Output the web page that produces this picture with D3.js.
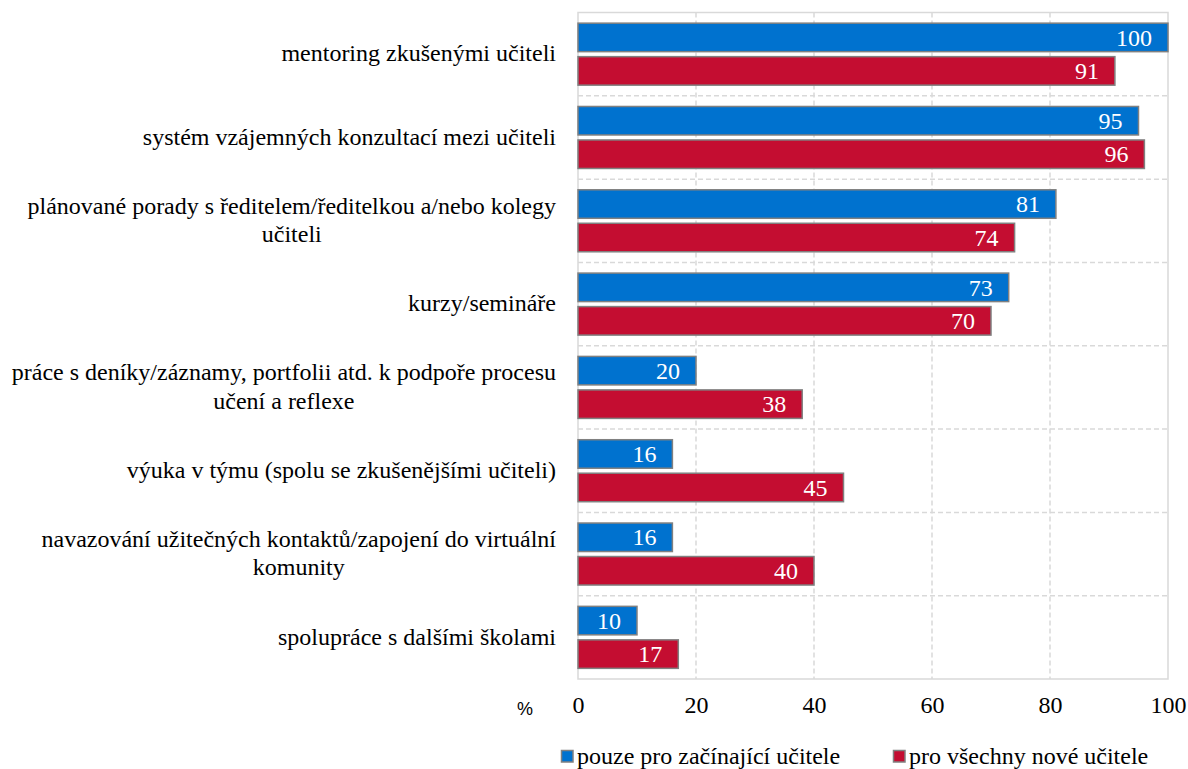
<!DOCTYPE html>
<html>
<head>
<meta charset="utf-8">
<script src="https://cdn.jsdelivr.net/npm/d3@7/dist/d3.min.js"></script>
<style>
  html, body { margin: 0; padding: 0; background: #fff; }
  svg { display: block; }
  .serif { font-family: "Liberation Serif", "Times New Roman", Tinos, "DejaVu Serif", serif; }
  .sans { font-family: "Liberation Sans", Arial, sans-serif; }
</style>
</head>
<body>
<svg id="chart" width="1188" height="769"></svg>
<script>
// ---- data ----
const categories = [
  "mentoring zkušenými učiteli",
  "systém vzájemných konzultací mezi učiteli",
  "plánované porady s ředitelem/ředitelkou a/nebo kolegy\nučiteli",
  "kurzy/semináře",
  "práce s deníky/záznamy, portfolii atd. k podpoře procesu\nučení a reflexe",
  "výuka v týmu (spolu se zkušenějšími učiteli)",
  "navazování užitečných kontaktů/zapojení do virtuální\nkomunity",
  "spolupráce s dalšími školami"
];
const seriesNames = ["pouze pro začínající učitele", "pro všechny nové učitele"];
const beginners = [100, 95, 81, 73, 20, 16, 16, 10];
const allNew = [91, 96, 74, 70, 38, 45, 40, 17];
const xTicks = [0, 20, 40, 60, 80, 100];
const unitLabel = "%";

// ---- layout ----
const colors = ["#0072CF", "#C40D31"];
const fs = 24;
const plot = { left: 578, right: 1168, top: 12.5, bottom: 679 };

const svg = d3.select("#chart");

const x = d3.scaleLinear().domain([0, 100]).range([plot.left, plot.right]);
const y = d3.scaleBand().domain(categories).range([plot.top, plot.bottom]).paddingInner(0).paddingOuter(0);
const sub = d3.scaleBand().domain(seriesNames).range([0, y.bandwidth()]).paddingInner(0.149).paddingOuter(0.318);

const gridColor = "#d9d9d9";

svg.append("g").selectAll("line")
  .data(xTicks.filter(t => t > 0 && t < 100))
  .join("line")
  .attr("x1", d => x(d)).attr("x2", d => x(d))
  .attr("y1", plot.top).attr("y2", plot.bottom)
  .attr("stroke", gridColor).attr("stroke-width", 1.5)
  .attr("stroke-dasharray", "5,3");

svg.append("g").selectAll("line")
  .data(categories.slice(1))
  .join("line")
  .attr("x1", plot.left).attr("x2", plot.right)
  .attr("y1", d => y(d)).attr("y2", d => y(d))
  .attr("stroke", gridColor).attr("stroke-width", 1.5)
  .attr("stroke-dasharray", "5,3");

svg.append("rect")
  .attr("x", plot.left).attr("y", plot.top)
  .attr("width", plot.right - plot.left).attr("height", plot.bottom - plot.top)
  .attr("fill", "none").attr("stroke", gridColor).attr("stroke-width", 1.5);

const rows = categories.map((c, i) => ({ cat: c, vals: [beginners[i], allNew[i]] }));
const groups = svg.append("g").selectAll("g")
  .data(rows).join("g")
  .attr("transform", d => `translate(0,${y(d.cat)})`);

const barData = d => d.vals.map((v, j) => ({ v, j, name: seriesNames[j] }));

groups.selectAll("rect")
  .data(barData).join("rect")
  .attr("x", x(0))
  .attr("y", d => sub(d.name))
  .attr("width", d => x(d.v) - x(0))
  .attr("height", sub.bandwidth())
  .attr("fill", d => colors[d.j])
  .attr("stroke", "#808080")
  .attr("stroke-width", 1.5);

groups.selectAll("text")
  .data(barData).join("text")
  .attr("class", "serif")
  .attr("x", d => x(d.v) - 16)
  .attr("y", d => sub(d.name) + sub.bandwidth() / 2)
  .attr("dy", "0.34em")
  .attr("text-anchor", "end")
  .attr("fill", "#fff")
  .attr("font-size", fs)
  .text(d => d.v);

const labelRight = 556;
const lineH = 28.5;
const catG = svg.append("g");
categories.forEach(c => {
  const lines = c.split("\n");
  const cy = y(c) + y.bandwidth() / 2;
  const t = catG.append("text")
    .attr("class", "serif")
    .attr("font-size", fs)
    .attr("fill", "#000");
  const spans = lines.map((ln, k) => t.append("tspan")
    .attr("y", cy + (k - (lines.length - 1) / 2) * lineH)
    .attr("dy", "0.3em")
    .text(ln));
  let maxW = 0;
  spans.forEach(s => { maxW = Math.max(maxW, s.node().getComputedTextLength()); });
  const cx = labelRight - maxW / 2;
  spans.forEach(s => s.attr("x", cx).attr("text-anchor", "middle"));
});

const xAxis = d3.axisBottom(x).tickValues(xTicks).tickSize(0).tickPadding(0).tickFormat(d3.format("d"));
const axG = svg.append("g").attr("transform", `translate(0,${plot.bottom})`).call(xAxis);
axG.select(".domain").remove();
axG.attr("font-family", null).attr("font-size", null);
axG.selectAll("text")
  .attr("class", "serif")
  .attr("font-size", fs)
  .attr("fill", "#000")
  .attr("y", 34)
  .attr("dy", 0);

svg.append("text")
  .attr("class", "sans")
  .attr("x", 525).attr("y", 715)
  .attr("text-anchor", "middle")
  .attr("font-size", 18)
  .attr("fill", "#000")
  .text(unitLabel);

const legendX = [561, 893];
const lg = svg.append("g").selectAll("g")
  .data(seriesNames).join("g")
  .attr("transform", (d, i) => `translate(${legendX[i]},0)`);
lg.append("rect")
  .attr("x", 0.5).attr("y", 750.5)
  .attr("width", 11.5).attr("height", 11.5)
  .attr("fill", (d, i) => colors[i])
  .attr("stroke", "#808080").attr("stroke-width", 1.5);
lg.append("text")
  .attr("class", "serif")
  .attr("x", 16).attr("y", 764)
  .attr("font-size", fs)
  .attr("fill", "#000")
  .text(d => d);
</script>
</body>
</html>
